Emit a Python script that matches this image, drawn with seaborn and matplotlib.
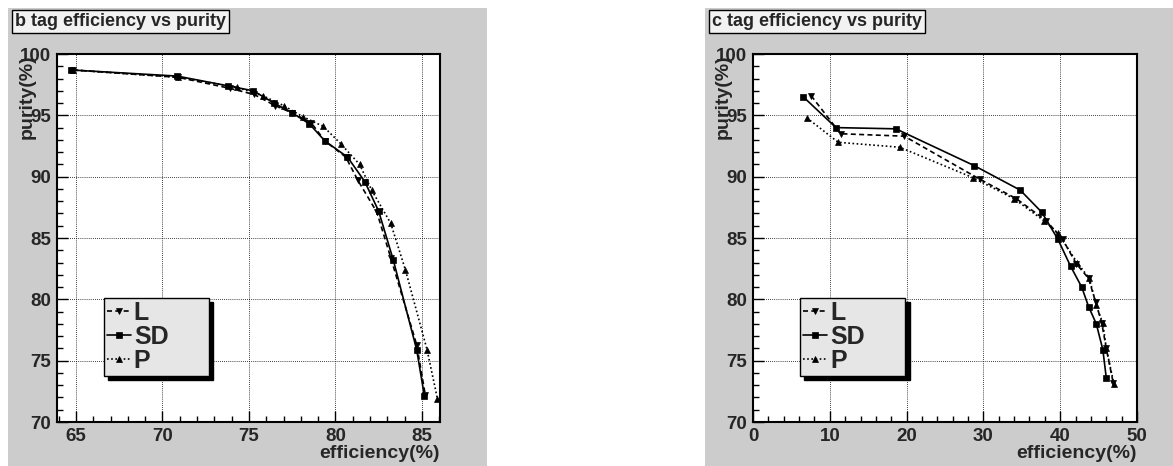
import numpy as np
import pandas as pd
import matplotlib
matplotlib.use('Agg')
import matplotlib.pyplot as plt
import seaborn as sns
from matplotlib.patches import Rectangle
from matplotlib.ticker import MultipleLocator

# b tag: efficiency(%) and purity(%) per tagger
b_eff_L = [64.8, 70.9, 73.9, 75.3, 76.5, 77.5, 78.6, 79.4, 80.6, 81.3, 82.4, 83.2, 84.7, 85.2]
b_pur_L = [98.7, 98.1, 97.2, 96.7, 95.8, 95.2, 94.4, 92.9, 91.6, 89.7, 87.1, 83.4, 76.3, 72.2]
b_eff_SD = [64.7, 70.85, 73.8, 75.25, 76.45, 77.5, 78.5, 79.4, 80.7, 81.7, 82.5, 83.35, 84.7, 85.15]
b_pur_SD = [98.7, 98.2, 97.4, 97.0, 96.0, 95.2, 94.3, 92.9, 91.6, 89.6, 87.2, 83.2, 75.9, 72.1]
b_eff_P = [64.8, 70.9, 74.3, 75.8, 77.0, 78.1, 79.3, 80.3, 81.4, 82.1, 83.2, 84.05, 85.3, 85.9]
b_pur_P = [98.7, 98.1, 97.3, 96.6, 95.8, 94.9, 94.1, 92.7, 91.0, 88.9, 86.2, 82.4, 75.9, 71.9]

# c tag
c_eff_L = [7.57, 11.4, 19.7, 29.5, 34.3, 38.2, 40.3, 42.1, 43.7, 44.6, 45.4, 46.0, 46.9]
c_pur_L = [96.6, 93.5, 93.3, 89.8, 88.2, 86.4, 84.9, 82.9, 81.7, 79.8, 78.1, 76.0, 73.2]
c_eff_SD = [6.56, 10.8, 18.6, 28.8, 34.8, 37.6, 39.7, 41.35, 42.8, 43.7, 44.7, 45.55, 46.0]
c_pur_SD = [96.5, 94.0, 93.9, 90.9, 88.9, 87.1, 84.9, 82.7, 81.0, 79.4, 78.0, 75.9, 73.6]
c_eff_P = [7.0, 11.1, 19.1, 28.7, 34.0, 37.9, 39.7, 42.2, 43.8, 44.7, 45.55, 46.0, 47.0]
c_pur_P = [94.8, 92.8, 92.4, 89.9, 88.2, 86.4, 85.4, 83.0, 81.7, 79.5, 78.05, 76.0, 73.1]

tags = ['L', 'SD', 'P']
markers = {'L': 'v', 'SD': 's', 'P': '^'}
dashes = {'L': (3, 2), 'SD': '', 'P': (1, 1.5)}


def make_df(series):
    rows = []
    for tag, (effs, purs) in zip(tags, series):
        for e, p in zip(effs, purs):
            rows.append({'tag': tag, 'eff': e, 'pur': p})
    return pd.DataFrame(rows)


b_df = make_df([(b_eff_L, b_pur_L), (b_eff_SD, b_pur_SD), (b_eff_P, b_pur_P)])
c_df = make_df([(c_eff_L, c_pur_L), (c_eff_SD, c_pur_SD), (c_eff_P, c_pur_P)])

sns.set_style('ticks')
plt.rcParams['font.family'] = ['Liberation Sans', 'DejaVu Sans']
plt.rcParams['font.weight'] = 'bold'
plt.rcParams['axes.labelweight'] = 'bold'

W, H = 1173, 466
fig = plt.figure(figsize=(W / 100, H / 100), dpi=100)
fig.patch.set_facecolor('white')

# gray pads behind each panel
fig.patches.append(Rectangle((8 / W, 0), 479 / W, 458 / H, transform=fig.transFigure,
                             facecolor='#cccccc', edgecolor='none', zorder=-10))
fig.patches.append(Rectangle((705 / W, 0), 468 / W, 458 / H, transform=fig.transFigure,
                             facecolor='#cccccc', edgecolor='none', zorder=-10))


def draw(ax, df, xlim, xmajor, xminor, title, title_x):
    sns.lineplot(data=df, x='eff', y='pur', hue='tag', style='tag',
                 hue_order=tags, style_order=tags,
                 palette={t: 'black' for t in tags},
                 markers=markers, dashes=dashes, sort=False, estimator=None,
                 markersize=4.5, markeredgecolor='black', markeredgewidth=0.5,
                 linewidth=1.2, ax=ax)
    ax.set_facecolor('white')
    ax.set_xlim(*xlim)
    ax.set_ylim(70, 100)
    ax.xaxis.set_major_locator(MultipleLocator(xmajor))
    ax.xaxis.set_minor_locator(MultipleLocator(xminor))
    ax.yaxis.set_major_locator(MultipleLocator(5))
    ax.yaxis.set_minor_locator(MultipleLocator(1))
    ax.tick_params(which='both', direction='in', top=False, right=False,
                   labelsize=13.5, width=1, color='black')
    ax.tick_params(which='major', length=8, pad=4)
    ax.tick_params(which='minor', length=4)
    ax.grid(True, which='major', linestyle=(0, (1, 1.5)), color='black', linewidth=0.6)
    ax.set_axisbelow(True)
    for s in ax.spines.values():
        s.set_linewidth(1.5)
        s.set_color('black')
        s.set_visible(True)

    ax.set_xlabel('efficiency(%)', loc='right', fontsize=14, fontweight='bold')
    ax.xaxis.set_label_coords(1.0, -0.062)
    ax.set_ylabel('purity(%)', loc='top', fontsize=14, fontweight='bold', va='center')
    ax.yaxis.set_label_coords(-0.078, 1.0)

    handles, labels = ax.get_legend_handles_labels()
    ax.legend(handles, labels, loc='lower left', mode='expand',
              bbox_to_anchor=(0.123, 0.125, 0.274, 0.212),
              frameon=True, fancybox=False,
              shadow={'ox': 3, 'oy': -3, 'facecolor': 'black', 'edgecolor': 'black', 'alpha': 1},
              prop={'weight': 'bold', 'size': 18}, handlelength=0.95,
              handletextpad=0.12, borderpad=0.12, labelspacing=0.0,
              borderaxespad=0, facecolor='#e6e6e6', edgecolor='black', framealpha=1)

    fig.text(title_x / W, 1 - 21.5 / H, title, ha='left', va='center',
             fontsize=13, fontweight='bold',
             bbox=dict(boxstyle='square,pad=0.18', facecolor='#f2f2f2',
                       edgecolor='black', linewidth=1))


ax1 = fig.add_axes([57 / W, 44 / H, 383 / W, 368 / H])
draw(ax1, b_df, (63.9, 86.05), 5, 1, 'b tag efficiency vs purity', 15)

ax2 = fig.add_axes([753 / W, 44 / H, 384 / W, 368 / H])
draw(ax2, c_df, (0, 50), 10, 2, 'c tag efficiency vs purity', 712)

fig.savefig('out.png', dpi=100, facecolor=fig.get_facecolor())
